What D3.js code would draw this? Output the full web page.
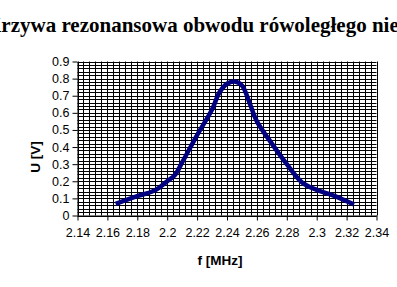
<!DOCTYPE html>
<html><head><meta charset="utf-8">
<script src="https://cdn.jsdelivr.net/npm/d3@7"></script>
<style>body{margin:0;background:#fff}svg{display:block}</style>
</head><body>
<script>
const title = "Krzywa rezonansowa obwodu rówoległego niesprzężonego";
const xLabel = "f [MHz]";
const yLabel = "U [V]";
const freq = [2.1655, 2.18, 2.19, 2.195, 2.2, 2.205, 2.21, 2.22, 2.23, 2.235, 2.24, 2.245, 2.25, 2.255, 2.26, 2.27, 2.28, 2.29, 2.3, 2.31, 2.325];
const volt = [0.068, 0.113, 0.14, 0.165, 0.2, 0.235, 0.31, 0.47, 0.62, 0.72, 0.77, 0.783, 0.76, 0.66, 0.55, 0.42, 0.30, 0.195, 0.15, 0.12, 0.064];
const xTicks = [2.14, 2.16, 2.18, 2.2, 2.22, 2.24, 2.26, 2.28, 2.3, 2.32, 2.34];
const yTicks = [0, 0.1, 0.2, 0.3, 0.4, 0.5, 0.6, 0.7, 0.8, 0.9];

const W = 397, H = 287;
const svg = d3.select("body").append("svg").attr("width", W).attr("height", H);
const x = d3.scaleLinear().domain([2.14, 2.34]).range([77.5, 376.5]);
const y = d3.scaleLinear().domain([0, 0.9]).range([215.5, 61.5]);

// minor grid
const xMinor = d3.range(0, 51).map(i => 2.14 + i * 0.004);
const yMinor = d3.range(0, 46).map(i => i * 0.02);
const g = svg.append("g");
g.selectAll("line.vx").data(xMinor).join("line")
  .attr("x1", d => Math.round(x(d)) + 0.5).attr("x2", d => Math.round(x(d)) + 0.5)
  .attr("y1", y(0.9)).attr("y2", y(0)).attr("stroke", "#000").attr("stroke-width", 1);
g.selectAll("line.hy").data(yMinor).join("line")
  .attr("y1", d => Math.round(y(d)) + 0.5).attr("y2", d => Math.round(y(d)) + 0.5)
  .attr("x1", x(2.14)).attr("x2", x(2.34)).attr("stroke", "#000").attr("stroke-width", 1);

// axes
const fmt = d => String(+d.toFixed(2));
svg.append("g").attr("transform", `translate(0,${y(0)})`)
  .call(d3.axisBottom(x).tickValues(xTicks).tickFormat(fmt).tickSize(5).tickSizeOuter(0))
  .call(a => a.select(".domain").attr("stroke", "#000"))
  .call(a => a.selectAll("text").attr("font-family", "Liberation Sans, Arial").attr("font-size", 12.5).attr("fill", "#000").attr("dy", "1.05em"));
svg.append("g").attr("transform", `translate(${x(2.14)},0)`)
  .call(d3.axisLeft(y).tickValues(yTicks).tickFormat(fmt).tickSize(5).tickSizeOuter(0))
  .call(a => a.select(".domain").attr("stroke", "#000"))
  .call(a => a.selectAll("text").attr("font-family", "Liberation Sans, Arial").attr("font-size", 12.5).attr("fill", "#000"));

// curve
const line = d3.line().x((d, i) => x(freq[i])).y(d => y(d)).curve(d3.curveCatmullRom.alpha(0.5));
svg.append("path").datum(volt).attr("d", line).attr("fill", "none")
  .attr("stroke", "#000080").attr("stroke-width", 4.5).attr("stroke-linejoin", "round");

// labels
svg.append("text").attr("x", -15).attr("y", 32).attr("font-family", "Liberation Serif, Times New Roman")
  .attr("font-weight", "bold").attr("font-size", 21).attr("fill", "#000").text(title);
svg.append("text").attr("x", 220).attr("y", 265).attr("text-anchor", "middle")
  .attr("font-family", "Liberation Sans, Arial").attr("font-weight", "bold").attr("font-size", 13.5).text(xLabel);
svg.append("text").attr("transform", "translate(40,157) rotate(-90)").attr("text-anchor", "middle")
  .attr("font-family", "Liberation Sans, Arial").attr("font-weight", "bold").attr("font-size", 13.5).text(yLabel);
</script>
</body></html>
